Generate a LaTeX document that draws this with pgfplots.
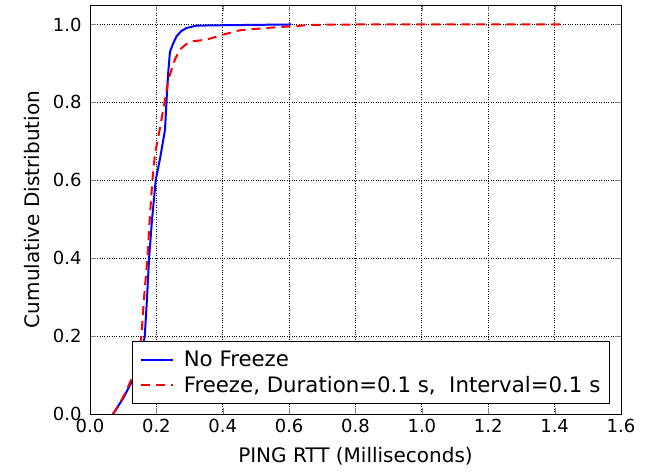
\documentclass[border=0pt]{standalone}
\usepackage{fontspec}
\setmainfont{DejaVu Sans}
\usepackage{pgfplots}
\pgfplotsset{compat=1.18}

\begin{document}
\begin{tikzpicture}
\begin{axis}[
	width=531pt, height=409pt,
	scale only axis,
	xmin=0, xmax=1.6,
	ymin=0, ymax=1.05,
	xtick={0,0.2,...,1.6},
	ytick={0,0.2,...,1.0},
	/pgf/number format/fixed,
	/pgf/number format/fixed zerofill,
	/pgf/number format/precision=1,
	/pgf/number format/assume math mode=true,
	xticklabel style={yshift=-2pt},
	yticklabel style={xshift=-5pt},
	tick label style={font=\fontsize{18}{21}\selectfont},
	label style={font=\fontsize{20}{24}\selectfont},
	xlabel style={yshift=-7pt},
	ylabel style={yshift=6pt},
	xlabel={PING RTT (Milliseconds)},
	ylabel={Cumulative Distribution},
	tick align=inside,
	major tick length=6pt,
	grid=major,
	major grid style={black, dotted, line width=0.9pt},
	axis line style={black, line width=0.9pt},
	legend style={at={(0.979,0.024)}, anchor=south east,
		font=\fontsize{21.3}{25}\selectfont, draw=black, line width=0.9pt,
		row sep=4pt, column sep=8pt, inner xsep=7pt, inner ysep=8pt},
	legend cell align=left,
	legend image post style={line width=2pt},
	legend image code/.code={\draw[#1] (0pt,0pt) -- (32pt,0pt);},
]
\addplot[blue, line width=2pt] coordinates {
(0.069,0) (0.10,0.04) (0.13,0.09) (0.155,0.15) (0.165,0.2) (0.172,0.3)
(0.178,0.4) (0.187,0.5) (0.198,0.6) (0.212,0.66) (0.226,0.73) (0.231,0.81)
(0.236,0.88) (0.241,0.93) (0.25,0.95) (0.261,0.97) (0.275,0.983) (0.291,0.991)
(0.321,0.997) (0.4,0.998) (0.5,0.999) (0.607,1.0)
};
\addlegendentry{No Freeze}
\addplot[red, line width=2pt, dash pattern=on 9pt off 6pt] coordinates {
(0.07,0) (0.085,0.02) (0.11,0.06) (0.14,0.12) (0.155,0.2) (0.163,0.3)
(0.173,0.4) (0.18,0.5) (0.188,0.6) (0.196,0.67) (0.21,0.73) (0.226,0.807)
(0.236,0.859) (0.256,0.91) (0.271,0.936) (0.291,0.95) (0.311,0.957)
(0.351,0.961) (0.401,0.974) (0.451,0.985) (0.531,0.991) (0.602,0.995)
(0.67,0.999) (0.8,1.0) (1.0,1.0) (1.2,1.0) (1.42,1.0)
};
\addlegendentry{Freeze, Duration=0.1 s,\ \ Interval=0.1 s}
\end{axis}
\path (current axis.south west) ++(-90pt,-61pt);
\path (current axis.north east) ++(33pt,5pt);
\end{tikzpicture}
\end{document}
